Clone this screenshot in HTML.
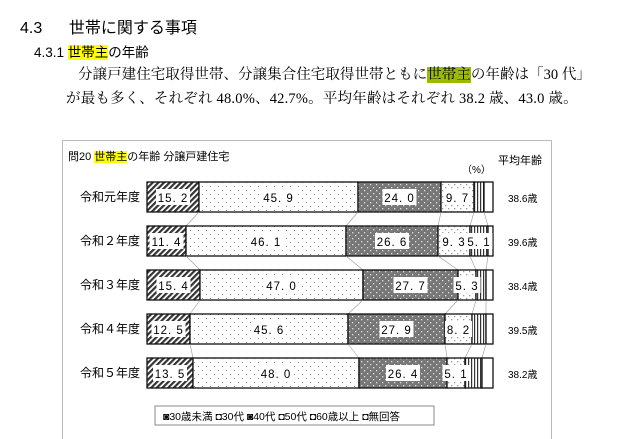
<!DOCTYPE html>
<html><head><meta charset="utf-8"><style>
body{margin:0;width:624px;height:439px;background:#fff;overflow:hidden;font-family:"Liberation Sans","Noto Sans CJK JP",sans-serif;position:relative}
.t{position:absolute;white-space:nowrap;color:#000}
.hl{background:#ffff00}
.hg{background:#9bbb00}
.s{font-family:"Liberation Serif","Noto Serif CJK SC",serif}
</style></head><body>
<div class="t" style="left:20px;top:14px;font-size:16px">4.3&nbsp;&nbsp;&nbsp;&nbsp;&nbsp;&nbsp;世帯に関する事項</div>
<div class="t" style="left:34px;top:41px;font-size:13.5px">4.3.1 <span class="hl">世帯主</span>の年齢</div>
<div class="t s" style="left:78px;top:63px;font-size:14.5px;letter-spacing:0.05px">分譲戸建住宅取得世帯、分譲集合住宅取得世帯ともに<span class="hg">世帯主</span>の年齢は「30 代」</div>
<div class="t s" style="left:66px;top:87px;font-size:14.5px;letter-spacing:0.2px">が最も多く、それぞれ 48.0%、42.7%。平均年齢はそれぞれ 38.2 歳、43.0 歳。</div>
<div class="t" style="left:68px;top:148px;font-size:11px">問20 <span class="hl">世帯主</span>の年齢 分譲戸建住宅</div>
<svg style="position:absolute;left:0;top:0" width="624" height="439" font-family="Liberation Sans,Noto Sans CJK JP,sans-serif">
<defs>
<pattern id="hatch" width="4" height="4" patternUnits="userSpaceOnUse" patternTransform="rotate(45)"><rect width="4" height="4" fill="#fff"/><rect width="2.2" height="4" fill="#333"/></pattern>
<pattern id="dot" width="8" height="8" patternUnits="userSpaceOnUse"><rect width="8" height="8" fill="#fff"/><rect x="2" y="2" width="1" height="1" fill="#888"/><rect x="6" y="6" width="1" height="1" fill="#888"/></pattern>
<pattern id="dark" width="6" height="6" patternUnits="userSpaceOnUse"><rect width="6" height="6" fill="#777"/><rect x="1" y="1" width="1.3" height="1.3" fill="#ddd"/><rect x="4" y="4" width="1.3" height="1.3" fill="#ddd"/></pattern>
<pattern id="ldot" width="6" height="6" patternUnits="userSpaceOnUse"><rect width="6" height="6" fill="#fff"/><rect x="1" y="1" width="1.3" height="1.3" fill="#999"/><rect x="4" y="4" width="1.3" height="1.3" fill="#999"/></pattern>
<pattern id="vl" width="3" height="3" patternUnits="userSpaceOnUse"><rect width="3" height="3" fill="#fff"/><rect width="1.2" height="3" fill="#333"/></pattern>
</defs>
<rect x="62.5" y="140.5" width="489" height="300" fill="none" stroke="#bbb"/>
<text x="498" y="164" font-size="11">平均年齢</text>
<text x="462" y="173" font-size="10">（%）</text>
<g font-size="11" id="bars"></g>
<rect x="155" y="406" width="279" height="19" fill="#fff" stroke="#888"/>
<text x="163" y="420" font-size="10.5">◙30歳未満 ◘30代 ◙40代 ◘50代 ◘60歳以上 ◘無回答</text>
</svg>
<script>
var rows=[["令和元年度",[147,199,358,441,474,484,493],["15.2","45.9","24.0","9.7"],"38.6歳"],
["令和２年度",[147,186,346,438,470,488,493],["11.4","46.1","26.6","9.3","5.1"],"39.6歳"],
["令和３年度",[147,200,363,458,476,486,493],["15.4","47.0","27.7","5.3"],"38.4歳"],
["令和４年度",[147,190,348,445,472,486,493],["12.5","45.6","27.9","8.2"],"39.5歳"],
["令和５年度",[147,193,359,447,465,482,493],["13.5","48.0","26.4","5.1"],"38.2歳"]];
var fills=["url(#hatch)","url(#dot)","url(#dark)","url(#ldot)","url(#vl)","#fff"];
var s="";
rows.forEach(function(r,i){var y=182+i*44,x=r[1];
s+='<text x="80" y="'+(y+19)+'" font-size="12">'+r[0]+'</text>';
for(var k=0;k<6;k++){s+='<rect x="'+x[k]+'" y="'+y+'" width="'+(x[k+1]-x[k])+'" height="30" fill="'+fills[k]+'" stroke="#111" stroke-width="1.3"/>';}
r[2].forEach(function(l,k){var cx=(x[k]+x[k+1])/2,w=l.length*7+6;
s+='<rect x="'+(cx-w/2)+'" y="'+(y+7)+'" width="'+w+'" height="16" fill="#fff"/><text x="'+cx+'" y="'+(y+20)+'" text-anchor="middle" font-size="11.5" letter-spacing="1">'+l.replace(".",". ")+'</text>';});
s+='<text x="508" y="'+(y+20)+'" font-size="10">'+r[3]+'</text>';
if(i<4){var n=rows[i+1][1];for(var k=1;k<6;k++)s+='<line x1="'+x[k]+'" y1="'+(y+30)+'" x2="'+n[k]+'" y2="'+(y+44)+'" stroke="#999" stroke-width="0.6"/>';}
});
document.getElementById("bars").innerHTML=s;
</script>
</body></html>
